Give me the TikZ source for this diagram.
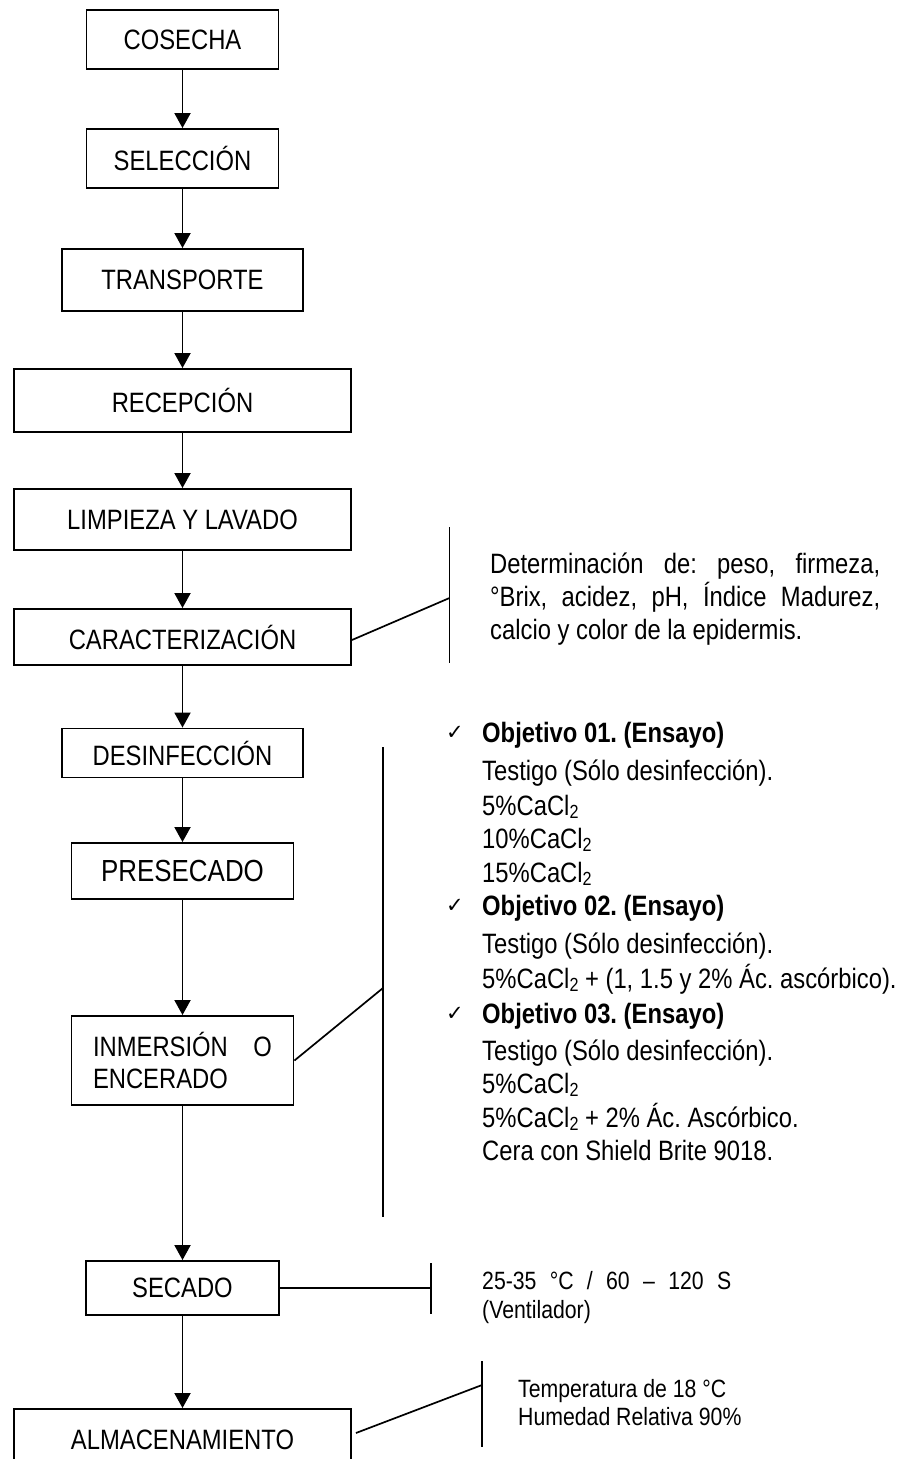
\documentclass[tikz,border=0pt]{standalone}
\usepackage{fontspec}
\setmainfont{Liberation Sans}[FakeStretch=0.85]
\newfontfamily\checkfont{DejaVu Sans}
\usetikzlibrary{arrows.meta}
\newcommand{\subtwo}{\raisebox{-3pt}{\fontsize{19}{19}\selectfont 2}}
\frenchspacing
\begin{document}
\begin{tikzpicture}[x=1pt,y=-1pt,
  box/.style={draw, line width=1.9pt, inner sep=0pt, font=\fontsize{28}{32}\selectfont},
  arr/.style={line width=1.9pt, -{Triangle[width=16pt,length=15pt]}},
  lnk/.style={line width=1.7pt},
  txt/.style={anchor=base west, inner sep=0pt, font=\fontsize{28}{33}\selectfont},
  smalltxt/.style={anchor=base west, inner sep=0pt, font=\fontsize{25}{29}\selectfont},
  chk/.style={anchor=base west, inner sep=0pt, font=\checkfont\fontsize{21}{22}\selectfont}]
\useasboundingbox (0,0) rectangle (903,1459);
\clip (0,0) rectangle (903,1459);

% main boxes
\node[box, minimum width=192pt, minimum height=59pt] (cosecha) at (182.5,39.5) {COSECHA};
\node[box, minimum width=192pt, minimum height=59pt] (seleccion) at (182.5,158.5) {SELECCIÓN};
\node[box, minimum width=241pt, minimum height=62pt] (transporte) at (182.5,280) {TRANSPORTE};
\node[box, minimum width=337pt, minimum height=63pt] (recepcion) at (182.5,400.5) {RECEPCIÓN};
\node[box, minimum width=337pt, minimum height=61pt] (limpieza) at (182.5,519.5) {LIMPIEZA Y LAVADO};
\node[box, minimum width=337pt, minimum height=56pt] (caract) at (182.5,637) {CARACTERIZACIÓN};
\node[box, minimum width=241pt, minimum height=49pt] (desinf) at (182.5,753) {DESINFECCIÓN};
\node[box, minimum width=222pt, minimum height=56pt, font=\fontsize{30.5}{34}\selectfont] (presec) at (182.5,871) {PRESECADO};
\node[box, minimum width=222pt, minimum height=89pt, align=left] (inmersion) at (182.5,1060.5)
  {\makebox[179pt][s]{INMERSIÓN O}\\ENCERADO};
\node[box, minimum width=193pt, minimum height=54pt] (secado) at (182.5,1288) {SECADO};
\node[box, minimum width=337pt, minimum height=62pt] (almac) at (182.5,1440) {ALMACENAMIENTO};

% arrows
\draw[arr] (cosecha) -- (seleccion);
\draw[arr] (seleccion) -- (transporte);
\draw[arr] (transporte) -- (recepcion);
\draw[arr] (recepcion) -- (limpieza);
\draw[arr] (limpieza) -- (caract);
\draw[arr] (caract) -- (desinf);
\draw[arr] (desinf) -- (presec);
\draw[arr] (presec) -- (inmersion);
\draw[arr] (inmersion) -- (secado);
\draw[arr] (secado) -- (almac);

% side brackets
\coordinate (c1top) at (449.5,527);
\coordinate (c1bot) at (449.5,663);
\coordinate (c1mid) at (449.5,598);
\draw[lnk] (c1top) -- (c1bot);
\draw[lnk] ([yshift=-3pt]caract.east) -- (c1mid);

\coordinate (c2top) at (383,747);
\coordinate (c2bot) at (383,1217);
\coordinate (c2mid) at (383,988);
\draw[lnk] (c2top) -- (c2bot);
\draw[lnk] (inmersion.east) -- (c2mid);

\coordinate (c3top) at (431,1263);
\coordinate (c3bot) at (431,1314);
\coordinate (c3mid) at (431,1288);
\draw[lnk] (c3top) -- (c3bot);
\draw[lnk] (secado.east) -- (c3mid);

\coordinate (c4top) at (482,1361);
\coordinate (c4bot) at (482,1447);
\coordinate (c4mid) at (482,1385);
\draw[lnk] (c4top) -- (c4bot);
\draw[lnk] ([xshift=4pt,yshift=7pt]almac.east) -- (c4mid);

% caracterizacion note
\node[txt] (det1) at (490,573) {\makebox[390pt][s]{Determinación de: peso, firmeza,}};
\node[txt] (det2) at (490,606.5) {\makebox[390pt][s]{°Brix, acidez, pH, Índice Madurez,}};
\node[txt] (det3) at (490,639) {calcio y color de la epidermis.};

% objectives
\node[chk] (k1) at (446,739) {✓};
\node[txt] (o1) at (482,742) {\textbf{Objetivo 01. (Ensayo)}};
\node[txt] (o1a) at (482,780) {Testigo (Sólo desinfección).};
\node[txt] (o1b) at (482,815) {5\%CaCl\subtwo};
\node[txt] (o1c) at (482,848) {10\%CaCl\subtwo};
\node[txt] (o1d) at (482,882) {15\%CaCl\subtwo};
\node[chk] (k2) at (446,912) {✓};
\node[txt] (o2) at (482,915) {\textbf{Objetivo 02. (Ensayo)}};
\node[txt] (o2a) at (482,953) {Testigo (Sólo desinfección).};
\node[txt] (o2b) at (482,988) {5\%CaCl\subtwo{} + (1, 1.5 y 2\% Ác. ascórbico).};
\node[chk] (k3) at (446,1020) {✓};
\node[txt] (o3) at (482,1023) {\textbf{Objetivo 03. (Ensayo)}};
\node[txt] (o3a) at (482,1060) {Testigo (Sólo desinfección).};
\node[txt] (o3b) at (482,1093) {5\%CaCl\subtwo};
\node[txt] (o3c) at (482,1127) {5\%CaCl\subtwo{} + 2\% Ác. Ascórbico.};
\node[txt] (o3d) at (482,1160) {Cera con Shield Brite 9018.};

% secado note
\node[smalltxt] (s1) at (482,1289) {\makebox[249pt][s]{25-35 °C / 60 – 120 S}};
\node[smalltxt] (s2) at (482,1318) {(Ventilador)};

% almacenamiento note
\node[smalltxt] (a1) at (518,1397) {Temperatura de 18 °C};
\node[smalltxt] (a2) at (518,1425) {Humedad Relativa 90\%};
\end{tikzpicture}
\end{document}
